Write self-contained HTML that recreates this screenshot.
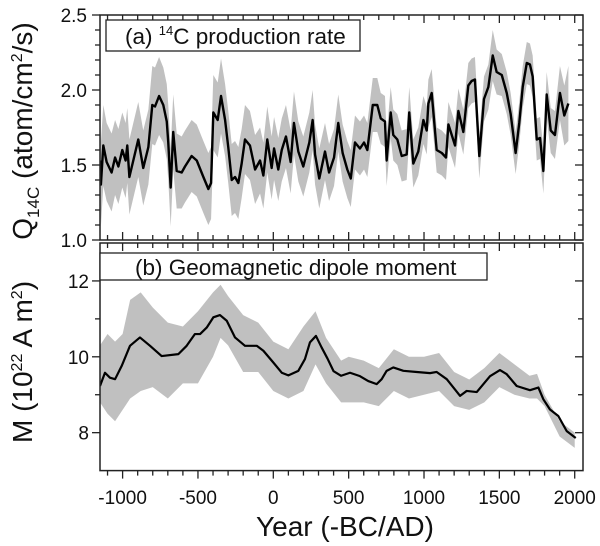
<!DOCTYPE html>
<html><head><meta charset="utf-8"><style>
html,body{margin:0;padding:0;background:#fff;}
body{position:relative;width:600px;height:546px;overflow:hidden;}
svg{display:block;font-family:"Liberation Sans",Arial,sans-serif;}
</style></head><body>
<svg id="chart" width="600" height="546" viewBox="0 0 600 546"></svg>
<script>
// ---- data: panel (a) 14C production rate ----
const qYears = [-1150,-1144,-1128,-1106,-1073,-1050,-1028,-1002,-980,-969,-955,-896,-863,-829,-803,-785,-758,-730,-707,-697,-681,-664,-641,-608,-586,-542,-508,-464,-431,-413,-398,-369,-347,-320,-299,-276,-254,-232,-210,-188,-155,-121,-88,-66,-40,-11,5,33,56,84,115,137,166,199,239,261,277,305,343,370,403,431,460,491,514,542,575,602,624,660,690,713,741,752,779,796,823,852,885,902,929,962,996,1018,1029,1051,1084,1118,1146,1162,1184,1206,1228,1261,1294,1316,1338,1367,1398,1427,1456,1482,1516,1549,1575,1608,1632,1655,1682,1703,1721,1748,1770,1792,1814,1841,1869,1902,1931,1958];
const qMean = [1.53,1.37,1.63,1.52,1.45,1.55,1.49,1.60,1.53,1.63,1.42,1.67,1.48,1.62,1.90,1.89,1.96,1.90,1.79,1.65,1.35,1.72,1.46,1.45,1.49,1.56,1.53,1.42,1.34,1.38,1.85,1.80,1.96,1.80,1.62,1.40,1.42,1.38,1.51,1.67,1.63,1.47,1.53,1.43,1.67,1.48,1.61,1.47,1.60,1.69,1.52,1.78,1.59,1.49,1.65,1.80,1.57,1.41,1.59,1.45,1.55,1.78,1.58,1.47,1.41,1.65,1.61,1.65,1.60,1.90,1.90,1.81,1.79,1.53,1.85,1.70,1.67,1.56,1.57,1.85,1.51,1.59,1.80,1.73,1.91,1.98,1.60,1.58,1.55,1.77,1.70,1.63,1.86,1.72,2.03,2.06,2.07,1.56,1.94,2.02,2.23,2.12,2.10,1.98,1.84,1.58,1.78,2.02,2.18,2.17,2.09,1.67,1.68,1.46,1.97,1.73,1.70,1.98,1.83,1.91];
const qErr = [0.28,0.28,0.27,0.26,0.26,0.25,0.25,0.25,0.25,0.25,0.25,0.25,0.25,0.25,0.26,0.26,0.26,0.25,0.25,0.25,0.26,0.25,0.25,0.24,0.24,0.24,0.24,0.24,0.24,0.24,0.25,0.25,0.25,0.24,0.24,0.24,0.24,0.24,0.23,0.23,0.23,0.23,0.22,0.22,0.22,0.21,0.21,0.21,0.21,0.21,0.21,0.21,0.20,0.20,0.20,0.20,0.20,0.20,0.19,0.19,0.19,0.19,0.19,0.19,0.19,0.18,0.18,0.18,0.18,0.18,0.18,0.17,0.17,0.17,0.17,0.17,0.17,0.17,0.17,0.17,0.16,0.16,0.16,0.16,0.16,0.16,0.15,0.15,0.15,0.15,0.15,0.15,0.15,0.15,0.15,0.15,0.15,0.15,0.15,0.15,0.17,0.15,0.14,0.14,0.14,0.14,0.14,0.14,0.14,0.14,0.14,0.14,0.14,0.15,0.15,0.15,0.16,0.18,0.20,0.25];
// ---- data: panel (b) dipole moment ----
const mYears = [-1150,-1117,-1084,-1050,-1006,-951,-885,-818,-741,-630,-575,-520,-486,-442,-398,-354,-309,-254,-188,-110,-66,0,56,100,166,210,243,283,320,360,400,450,509,575,630,686,719,752,796,863,952,1040,1084,1151,1239,1283,1350,1438,1504,1549,1615,1703,1759,1792,1836,1891,1947,2007];
const mMean = [9.23,9.58,9.45,9.41,9.76,10.29,10.51,10.29,10.02,10.07,10.29,10.60,10.60,10.77,11.04,11.10,10.95,10.51,10.29,10.29,10.16,9.85,9.58,9.51,9.63,9.94,10.38,10.55,10.25,9.95,9.62,9.50,9.58,9.49,9.36,9.28,9.41,9.63,9.72,9.63,9.60,9.57,9.60,9.41,8.97,9.10,9.07,9.49,9.65,9.54,9.23,9.12,9.19,8.88,8.61,8.44,8.04,7.86];
const bandYears = [-1150,-1100,-1050,-1000,-950,-880,-800,-700,-600,-500,-400,-350,-300,-200,-100,0,100,200,280,350,450,500,600,700,800,900,1000,1100,1200,1300,1400,1500,1600,1700,1750,1800,1900,2000];
const bandUpper = [10.3,10.6,10.4,10.6,11.5,11.7,11.3,10.9,10.8,11.2,11.7,11.9,11.6,11.1,10.9,10.4,10.2,10.8,11.2,10.5,9.9,10.0,9.9,9.7,10.2,10.0,10.0,10.1,9.6,9.4,9.7,10.1,9.8,9.5,9.55,9.0,8.3,8.0];
const bandLower = [8.8,8.5,8.3,8.6,8.9,9.1,9.2,8.9,9.3,9.3,10.0,10.5,10.3,9.6,9.6,9.1,8.9,9.1,9.8,9.3,8.8,8.8,8.8,8.7,9.1,8.9,9.0,9.1,8.7,8.6,8.8,9.2,9.0,8.9,8.9,8.7,7.9,7.6];
const xTicks = [-1000,-500,0,500,1000,1500,2000];
const qTicks = [1.0,1.5,2.0,2.5];
const mTicks = [8,10,12];

const NS='http://www.w3.org/2000/svg';
const svg=document.getElementById('chart');
const L=100,R=583;
const X0=-1150,X1=2055;
const x=v=>L+(v-X0)/(X1-X0)*(R-L);
const TT=15,TB=240, QMIN=1.0,QMAX=2.5;
const yq=v=>TB-(v-QMIN)/(QMAX-QMIN)*(TB-TT);
const BT=243,BB=470.6, MMIN=7,MMAX=13;
const ym=v=>BB-(v-MMIN)/(MMAX-MMIN)*(BB-BT);
function el(tag,attrs,parent){const e=document.createElementNS(NS,tag);for(const k in attrs)e.setAttribute(k,attrs[k]);(parent||svg).appendChild(e);return e;}

const defs=el('defs',{});
const c1=el('clipPath',{id:'c1'},defs);el('rect',{x:L,y:TT,width:R-L,height:TB-TT},c1);
const c2=el('clipPath',{id:'c2'},defs);el('rect',{x:L,y:BT,width:R-L,height:BB-BT},c2);

let up=qYears.map((yr,i)=>x(yr)+','+yq(qMean[i]+qErr[i]));
let lo=qYears.map((yr,i)=>x(yr)+','+yq(qMean[i]-qErr[i])).reverse();
let b1=el('polygon',{points:up.concat(lo).join(' '),fill:'#c0c0c0','clip-path':'url(#c1)'});


let l1=el('polyline',{points:qYears.map((yr,i)=>x(yr)+','+yq(qMean[i])).join(' '),fill:'none',stroke:'#000','stroke-width':2.4,'stroke-linejoin':'round','clip-path':'url(#c1)'});



up=bandYears.map((yr,i)=>x(yr)+','+ym(bandUpper[i]));
lo=bandYears.map((yr,i)=>x(yr)+','+ym(bandLower[i])).reverse();
let b2=el('polygon',{points:up.concat(lo).join(' '),fill:'#c0c0c0','clip-path':'url(#c2)'});


let l2=el('polyline',{points:mYears.map((yr,i)=>x(yr)+','+ym(mMean[i])).join(' '),fill:'none',stroke:'#000','stroke-width':2.2,'stroke-linejoin':'round','clip-path':'url(#c2)'});



const st={fill:'none',stroke:'#222','stroke-width':1.5};
let f1=el('rect',Object.assign({x:L,y:TT,width:R-L,height:TB-TT},st));


let f2=el('rect',Object.assign({x:L,y:BT,width:R-L,height:BB-BT},st));



function line(x1,y1,x2,y2){return el('line',{x1,y1,x2,y2,stroke:'#222','stroke-width':1.3});}
for(let yr=-1100;yr<=2000;yr+=100){
  const major=yr%500===0, len=major?8:5, px=x(yr);
  line(px,TT,px,TT+len); line(px,TB,px,TB-len);
  line(px,BT,px,BT+len); line(px,BB,px,BB+len);
}
for(let k=0;k<=15;k++){const v=1.0+k*0.1, py=yq(v), major=k%5===0;
  line(L,py,L-(major?8:5),py); line(R,py,R-(major?8:5),py);}
for(let v=8;v<=12;v++){const py=ym(v), major=v%2===0;
  line(L,py,L-(major?8:5),py); line(R,py,R-(major?8:5),py);}

xTicks.forEach(v=>{const t=el('text',{x:x(v),y:504,'font-size':19,'text-anchor':'middle',fill:'#111'});t.textContent=v;
  
  });
qTicks.forEach(v=>{const t=el('text',{x:87,y:yq(v)+7,'font-size':19,'text-anchor':'end',fill:'#111'});t.textContent=v.toFixed(1);
  
  });
mTicks.forEach(v=>{const t=el('text',{x:89,y:ym(v)+7,'font-size':19,'text-anchor':'end',fill:'#111'});t.textContent=v;
  
  });
</script>
<svg style="position:absolute;left:0;top:0" width="600" height="546" viewBox="0 0 600 546">
  <g>
    <rect x="106" y="20" width="254" height="31" fill="#fff" stroke="#222" stroke-width="1.3"/>
    <text x="125" y="44" font-size="22.5" font-family="Liberation Sans, sans-serif" fill="#111">(a) <tspan font-size="13" dy="-9">14</tspan><tspan dy="9">C production rate</tspan></text>
  </g>
  <g>
    <rect x="100" y="253" width="387" height="27" fill="#fff" stroke="#222" stroke-width="1.3"/>
    <text x="135" y="275" font-size="22.5" font-family="Liberation Sans, sans-serif" fill="#111">(b) Geomagnetic dipole moment</text>
  </g>
  <text x="345" y="536" font-size="28" text-anchor="middle" font-family="Liberation Sans, sans-serif" fill="#111">Year (-BC/AD)</text>
  <text transform="translate(32,131) rotate(-90)" font-size="28" text-anchor="middle" font-family="Liberation Sans, sans-serif" fill="#111">Q<tspan font-size="17" dy="7">14C</tspan><tspan dy="-7"> (atom/cm</tspan><tspan font-size="16" dy="-10">2</tspan><tspan dy="10">/s)</tspan></text>
  <text transform="translate(32,362) rotate(-90)" font-size="28" text-anchor="middle" font-family="Liberation Sans, sans-serif" fill="#111">M (10<tspan font-size="16" dy="-10">22</tspan><tspan dy="10"> A m</tspan><tspan font-size="16" dy="-10">2</tspan><tspan dy="10">)</tspan></text>
</svg>
</body></html>
